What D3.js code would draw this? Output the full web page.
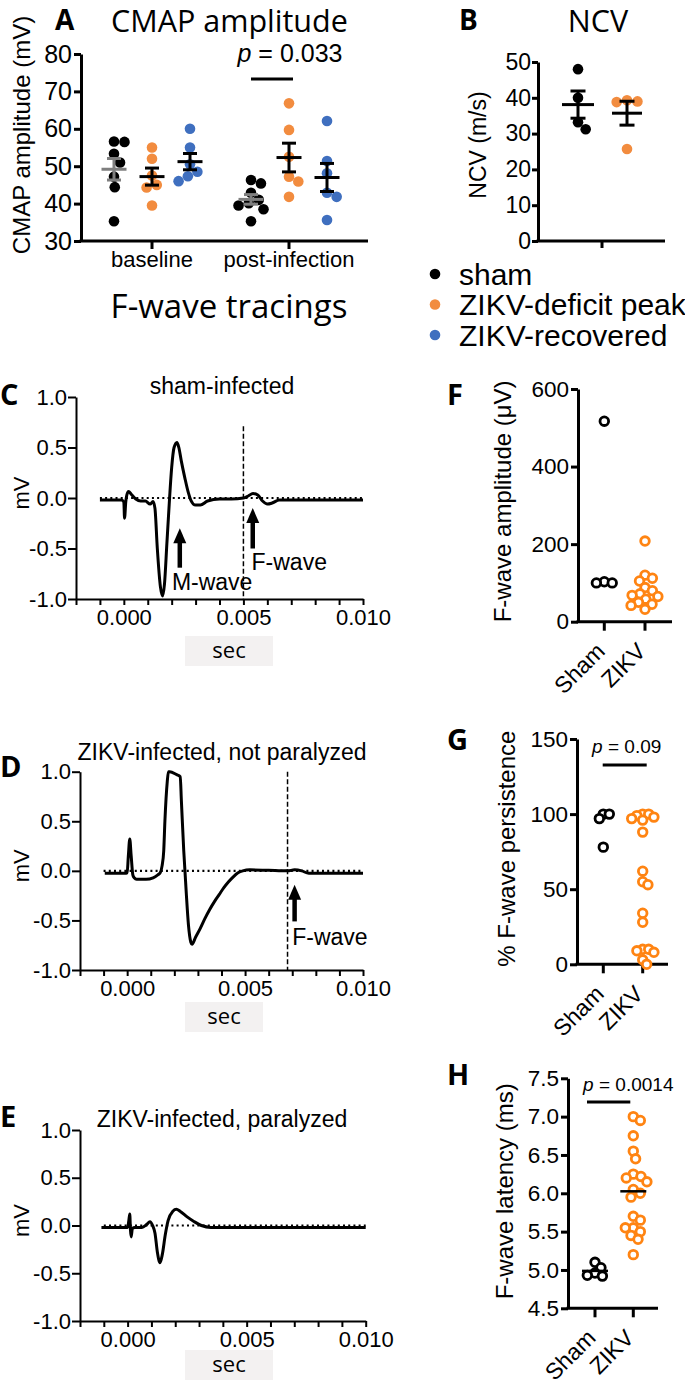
<!DOCTYPE html>
<html><head><meta charset="utf-8">
<script src="https://cdn.jsdelivr.net/npm/d3@7"></script>
<style>body{margin:0;background:#fff} svg{display:block}</style>
</head><body>
<svg id="fig" width="685" height="1386"></svg>
<script>
// ---------------- DATA ----------------
const groupsA = ["baseline", "post-infection"];
const seriesA = ["sham", "ZIKV-deficit peak", "ZIKV-recovered"];
const colorsA = ["#000000", "#F28C3F", "#3F6FBF"];
const cmapBaselineSham = [56.5, 56.6, 53.3, 51.0, 47.2, 44.4, 35.3];
const cmapBaselineDeficit = [55.0, 52.0, 47.5, 45.0, 44.3, 39.5];
const cmapBaselineRecovered = [60.0, 55.0, 50.5, 48.5, 47.3, 46.0];
const cmapPostSham = [46.3, 45.4, 42.9, 41.0, 40.1, 39.5, 38.5, 35.3];
const cmapPostDeficit = [66.8, 59.7, 52.5, 47.2, 45.9, 41.8];
const cmapPostRecovered = [62.1, 51.4, 48.1, 42.9, 41.8, 35.6];
const ticksA = [30, 40, 50, 60, 70, 80];
const pValueA = "0.033";

const ncvSham = [48.0, 40.0, 33.2, 31.2];
const ncvDeficit = [39.3, 39.0, 38.8, 25.7];
const ticksB = [0, 10, 20, 30, 40, 50];

const traceYTicks = [-1, -0.5, 0, 0.5, 1];
const traceXTicks = [-0.002, -0.001, 0, 0.001, 0.002, 0.003, 0.004, 0.005, 0.006, 0.007, 0.008, 0.009, 0.010];
const traceXLabels = [0, 0.005, 0.010];

const traceC = [[-0.0010,-0.02],[-0.0001,-0.02],[0.0,-0.04],[0.00003,-0.2],[0.00008,-0.04],[0.00015,0.05],[0.0002,0.065],[0.0003,0.04],[0.0005,-0.01],[0.0007,-0.03],[0.0009,-0.03],[0.0011,-0.06],[0.00122,-0.035],[0.0013,-0.1],[0.0014,-0.5],[0.00153,-0.88],[0.00162,-0.97],[0.0017,-0.85],[0.0018,-0.45],[0.0019,-0.05],[0.0020,0.3],[0.0021,0.5],[0.00222,0.55],[0.0023,0.5],[0.0024,0.37],[0.00255,0.2],[0.0027,0.05],[0.0028,-0.02],[0.0030,-0.07],[0.0032,-0.07],[0.0035,-0.03],[0.0040,-0.01],[0.0045,-0.01],[0.0050,0.0],[0.0052,0.02],[0.0054,0.045],[0.0056,0.03],[0.0058,-0.03],[0.0060,-0.06],[0.0062,-0.05],[0.0065,-0.02],[0.0070,-0.02],[0.0100,-0.02]];
const fLatencyC = 0.005;

const traceD = [[-0.00095,-0.025],[-0.0001,-0.025],[0.0,-0.02],[0.00005,0.15],[0.00011,0.32],[0.00017,0.15],[0.00024,-0.04],[0.0003,-0.07],[0.0004,-0.085],[0.0008,-0.085],[0.0011,-0.07],[0.0013,-0.04],[0.0014,-0.02],[0.00148,0.05],[0.00155,0.2],[0.0016,0.5],[0.0017,0.9],[0.00175,1.0],[0.0018,1.0],[0.0021,0.97],[0.00225,0.95],[0.0023,0.7],[0.0024,0.2],[0.0025,-0.2],[0.0026,-0.55],[0.0027,-0.72],[0.00275,-0.74],[0.0029,-0.67],[0.0031,-0.58],[0.0033,-0.48],[0.0035,-0.39],[0.0037,-0.31],[0.0039,-0.24],[0.0041,-0.17],[0.0043,-0.11],[0.0045,-0.06],[0.0047,-0.02],[0.0049,0.0],[0.0052,0.01],[0.0060,0.005],[0.0068,0.0],[0.0071,0.01],[0.0074,0.0],[0.0077,-0.025],[0.0080,-0.025],[0.0100,-0.025]];
const fLatencyD = 0.0068;

const traceE = [[-0.0011,-0.02],[0.0,-0.02],[0.00005,0.05],[0.00009,0.12],[0.00012,-0.05],[0.00015,-0.12],[0.0002,-0.03],[0.0003,-0.02],[0.0006,-0.02],[0.0008,0.01],[0.00094,0.04],[0.00105,0.0],[0.00115,-0.08],[0.00125,-0.28],[0.00136,-0.39],[0.00146,-0.3],[0.00158,-0.1],[0.0017,0.05],[0.0019,0.15],[0.00205,0.17],[0.0022,0.15],[0.0025,0.09],[0.0028,0.04],[0.0031,0.0],[0.0035,-0.02],[0.0100,-0.02]];

const groupsFH = ["Sham", "ZIKV"];
const colorsFH = ["#000000", "#FF8412"];
const fAmpSham = [517, 103, 100, 100];
const fAmpZikv = [208, 120, 112, 105, 88, 80, 72, 68, 65, 58, 50, 45, 42, 32];
const ticksF = [0, 200, 400, 600];
const persistSham = [100, 100, 97, 78];
const persistZikv = [100, 100, 99, 98, 97, 96, 88, 62, 55, 53, 34, 28, 10, 10, 9, 8, 3, 0];
const ticksG = [0, 50, 100, 150];
const pValueG = "0.09";
const latencySham = [5.1, 5.03, 4.96, 4.93, 4.92];
const latencyZikv = [7.0, 6.95, 6.75, 6.55, 6.45, 6.25, 6.22, 6.2, 6.15, 6.05, 6.0, 5.95, 5.7, 5.65, 5.55, 5.55, 5.5, 5.45, 5.4, 5.2];
const ticksH = [4.5, 5.0, 5.5, 6.0, 6.5, 7.0, 7.5];
const pValueH = "0.0014";

// ---------------- HELPERS ----------------
const ARIAL = "'Liberation Sans', Arial, sans-serif";
const HUM = "'Open Sans', sans-serif";
const svg = d3.select("#fig");
svg.append("rect").attr("width", 685).attr("height", 1386).attr("fill", "#fff");

function txt(g, x, y, s, fs, opts = {}) {
  return g.append("text").attr("x", x).attr("y", y).text(s)
    .attr("font-size", fs).attr("font-family", opts.font || ARIAL)
    .attr("font-weight", opts.weight || "normal")
    .attr("text-anchor", opts.anchor || "start").attr("fill", "#000");
}
function styleAxis(g, fs, sw) {
  g.attr("font-size", null).attr("font-family", null);
  g.select(".domain").attr("stroke-width", sw).attr("stroke", "#000");
  g.selectAll(".tick line").attr("stroke-width", sw).attr("stroke", "#000");
  g.selectAll(".tick text").attr("font-size", fs).attr("font-family", ARIAL).attr("fill", "#000");
}
function yLabel(x, y, s, fs) {
  svg.append("text").attr("transform", `translate(${x},${y}) rotate(-90)`)
    .attr("text-anchor", "middle").attr("dy", "0.35em")
    .attr("font-size", fs).attr("font-family", ARIAL).text(s);
}
function swarm(values, yScale, cx, d) {
  const pts = values.map(v => ({ v, y: yScale(v) })).sort((a, b) => a.y - b.y);
  const placed = [];
  for (const p of pts) {
    const cands = [0];
    for (const q of placed) {
      const dy = Math.abs(q.y - p.y);
      if (dy < d) { const dx = Math.sqrt(d * d - dy * dy); cands.push(q.dx + dx, q.dx - dx); }
    }
    cands.sort((a, b) => Math.abs(a) - Math.abs(b));
    p.dx = 0;
    for (const c of cands) {
      if (placed.every(q => (q.dx - c) ** 2 + (q.y - p.y) ** 2 >= d * d - 0.01)) { p.dx = c; break; }
    }
    placed.push(p);
  }
  return placed.map(p => ({ x: cx + p.dx, y: p.y, v: p.v }));
}
function meanSem(g, vals, x, yScale, half, cap, color, sw, showErr = true) {
  const m = d3.mean(vals), se = d3.deviation(vals) / Math.sqrt(vals.length);
  g.append("line").attr("x1", x - half).attr("x2", x + half).attr("y1", yScale(m)).attr("y2", yScale(m))
    .attr("stroke", color).attr("stroke-width", sw);
  if (!showErr) return;
  g.append("line").attr("x1", x).attr("x2", x).attr("y1", yScale(m - se)).attr("y2", yScale(m + se))
    .attr("stroke", color).attr("stroke-width", sw);
  [m - se, m + se].forEach(v => g.append("line").attr("x1", x - cap).attr("x2", x + cap)
    .attr("y1", yScale(v)).attr("y2", yScale(v)).attr("stroke", color).attr("stroke-width", sw));
}

// ---------------- PANEL A ----------------
{
  const g = svg.append("g");
  const y = d3.scaleLinear().domain([30, 80]).range([241, 54]);
  const xg = d3.scalePoint().domain(groupsA).range([152, 289]);
  const xs = d3.scalePoint().domain(seriesA).range([-38, 38]);
  const dataA = {
    "baseline": [cmapBaselineSham, cmapBaselineDeficit, cmapBaselineRecovered],
    "post-infection": [cmapPostSham, cmapPostDeficit, cmapPostRecovered]
  };
  const ax = g.append("g").attr("transform", "translate(81,0)")
    .call(d3.axisLeft(y).tickValues(ticksA).tickSize(7).tickSizeOuter(0).tickPadding(2).tickFormat(d3.format("d")));
  styleAxis(ax, 25, 3);
  g.append("line").attr("x1", 79.5).attr("x2", 368).attr("y1", 241).attr("y2", 241).attr("stroke", "#000").attr("stroke-width", 3);
  groupsA.forEach(gr => {
    g.append("line").attr("x1", xg(gr)).attr("x2", xg(gr)).attr("y1", 241).attr("y2", 249).attr("stroke", "#000").attr("stroke-width", 3);
    txt(g, xg(gr), 267, gr, 22, { anchor: "middle" });
  });
  groupsA.forEach(gr => {
    seriesA.forEach((s, i) => {
      const cx = xg(gr) + xs(s);
      const pts = swarm(dataA[gr][i], y, cx, 10.5);
      g.selectAll(null).data(pts).enter().append("circle")
        .attr("cx", d => d.x).attr("cy", d => d.y).attr("r", 5.3).attr("fill", colorsA[i]);
    });
    seriesA.forEach((s, i) => {
      meanSem(g, dataA[gr][i], xg(gr) + xs(s), y, 12.5, 7, i === 0 ? "#7f7f7f" : "#000", 3);
    });
  });
  const px1 = xg("post-infection") + xs("sham"), px2 = xg("post-infection") + xs("ZIKV-deficit peak") + 4;
  g.append("line").attr("x1", px1).attr("x2", px2).attr("y1", y(73.3)).attr("y2", y(73.3)).attr("stroke", "#000").attr("stroke-width", 3);
  const pt = txt(g, 290, 62, "", 25, { anchor: "middle" });
  pt.append("tspan").attr("font-style", "italic").text("p");
  pt.append("tspan").text(" = " + pValueA);
  yLabel(22, 135, "CMAP amplitude (mV)", 24);
  txt(svg, 55, 30, "A", 28, { weight: "bold", font: HUM });
  txt(svg, 111, 32, "CMAP amplitude", 30.5, { font: HUM });
}

// ---------------- PANEL B ----------------
{
  const g = svg.append("g");
  const y = d3.scaleLinear().domain([0, 50]).range([241, 62]);
  const x = d3.scalePoint().domain(["sham", "deficit"]).range([578, 627]);
  const ax = g.append("g").attr("transform", "translate(538,0)")
    .call(d3.axisLeft(y).tickValues(ticksB).tickSize(6).tickSizeOuter(0).tickPadding(1).tickFormat(d3.format("d")));
  styleAxis(ax, 23, 3);
  g.append("line").attr("x1", 536.5).attr("x2", 665).attr("y1", 241).attr("y2", 241).attr("stroke", "#000").attr("stroke-width", 3);
  g.append("line").attr("x1", 602).attr("x2", 602).attr("y1", 241).attr("y2", 248).attr("stroke", "#000").attr("stroke-width", 3);
  [[ncvSham, "sham", colorsA[0]], [ncvDeficit, "deficit", colorsA[1]]].forEach(([vals, k, c]) => {
    const pts = swarm(vals, y, x(k), 10.5);
    g.selectAll(null).data(pts).enter().append("circle")
      .attr("cx", d => d.x).attr("cy", d => d.y).attr("r", 5.3).attr("fill", c);
  });
  meanSem(g, ncvSham, x("sham"), y, 16, 7.5, "#000", 3);
  meanSem(g, ncvDeficit, x("deficit"), y, 15, 7.5, "#000", 3);
  yLabel(478, 145, "NCV (m/s)", 23);
  txt(svg, 459, 30, "B", 28, { weight: "bold", font: HUM });
  txt(svg, 598, 32, "NCV", 30.5, { font: HUM, anchor: "middle" });
}

// ---------------- LEGEND ----------------
{
  const g = svg.append("g");
  const ly = d3.scalePoint().domain(seriesA).range([274, 335]);
  seriesA.forEach((s, i) => {
    g.append("circle").attr("cx", 435).attr("cy", ly(s)).attr("r", 5.3).attr("fill", colorsA[i]);
    txt(g, 459, ly(s), s, 30).attr("dy", "0.35em");
  });
}

txt(svg, 229, 318, "F-wave tracings", 33, { font: HUM, anchor: "middle" });

// ---------------- TRACES ----------------
function tracePanel(o) {
  const g = svg.append("g");
  const x = d3.scaleLinear().domain([-0.002, 0.010]).range([o.x0, o.x1]);
  const y = d3.scaleLinear().domain([-1, 1]).range([o.y0, o.y1]);
  const ay = g.append("g").attr("transform", `translate(${o.x0},0)`)
    .call(d3.axisLeft(y).tickValues(traceYTicks).tickSize(8).tickSizeOuter(0).tickPadding(1).tickFormat(d => d.toFixed(1)));
  styleAxis(ay, 22, 2);
  const axx = g.append("g").attr("transform", `translate(0,${o.y0})`)
    .call(d3.axisBottom(x).tickValues(traceXTicks).tickSize(6).tickSizeOuter(0).tickPadding(4)
      .tickFormat(d => traceXLabels.some(l => Math.abs(l - d) < 1e-9) ? d.toFixed(3) : ""));
  styleAxis(axx, 22, 2);
  g.append("line").attr("x1", x(-0.001)).attr("x2", x(0.010)).attr("y1", y(0)).attr("y2", y(0))
    .attr("stroke", "#000").attr("stroke-width", 2.2).attr("stroke-dasharray", "2,3.2");
  if (o.fLat !== undefined) {
    g.append("line").attr("x1", x(o.fLat)).attr("x2", x(o.fLat)).attr("y1", y(o.fTop)).attr("y2", y(-1))
      .attr("stroke", "#000").attr("stroke-width", 1.5).attr("stroke-dasharray", "5,2.5");
  }
  const line = d3.line().x(d => x(d[0])).y(d => y(d[1])).curve(d3.curveMonotoneX);
  g.append("path").datum(o.data).attr("d", line).attr("fill", "none").attr("stroke", "#000")
    .attr("stroke-width", 3).attr("stroke-linejoin", "round");
  (o.arrows || []).forEach(a => {
    const ax_ = x(a.t), yb = y(a.v0), yt = y(a.v1);
    g.append("line").attr("x1", ax_).attr("x2", ax_).attr("y1", yb).attr("y2", yt + 12)
      .attr("stroke", "#000").attr("stroke-width", 4.5);
    g.append("path").attr("d", `M${ax_},${yt} L${ax_ - 6.5},${yt + 15} L${ax_ + 6.5},${yt + 15} Z`).attr("fill", "#000");
  });
  (o.labels || []).forEach(l => txt(g, x(l.t), y(l.v), l.s, 23));
  txt(g, 222, o.titleY, o.title, 23, { anchor: "middle" });
  yLabel(21, y(0) - 5, "mV", 22);
  g.append("rect").attr("x", 185).attr("y", o.secY - 22).attr("width", o.secW).attr("height", 30).attr("fill", "#f3f1f1");
  txt(g, 185 + o.secW / 2, o.secY, "sec", 22, { font: HUM, anchor: "middle" });
  txt(svg, 0, o.letterY, o.letter, 29, { weight: "bold", font: HUM });
}

tracePanel({ x0: 76, x1: 363, y0: 599, y1: 397, data: traceC, fLat: fLatencyC, fTop: 0.71,
  arrows: [{ t: 0.00234, v0: -0.69, v1: -0.30 }, { t: 0.00539, v0: -0.5, v1: -0.1 }],
  labels: [{ t: 0.00201, v: -0.91, s: "M-wave" }, { t: 0.00534, v: -0.71, s: "F-wave" }],
  title: "sham-infected", titleY: 394, secY: 658, secW: 88, letter: "C", letterY: 405 });
tracePanel({ x0: 80, x1: 363, y0: 970, y1: 771.7, data: traceD, fLat: fLatencyD, fTop: 1.0,
  arrows: [{ t: 0.0071, v0: -0.51, v1: -0.14 }],
  labels: [{ t: 0.00700, v: -0.75, s: "F-wave" }],
  title: "ZIKV-infected, not paralyzed", titleY: 760, secY: 1024, secW: 78, letter: "D", letterY: 777 });
tracePanel({ x0: 80, x1: 365.7, y0: 1321, y1: 1130, data: traceE,
  title: "ZIKV-infected, paralyzed", titleY: 1127, secY: 1372, secW: 88, letter: "E", letterY: 1127 });

// ---------------- F, G, H ----------------
function scatterPanel(o) {
  const g = svg.append("g");
  const y = d3.scaleLinear().domain(o.domain).range([o.yb, o.yt]);
  const x = d3.scalePoint().domain(groupsFH).range([o.xs, o.xz]);
  const ax = g.append("g").attr("transform", `translate(${o.x0},0)`)
    .call(d3.axisLeft(y).tickValues(o.ticks).tickSize(7).tickSizeOuter(0).tickPadding(2).tickFormat(o.fmt));
  styleAxis(ax, 22.5, 3);
  g.append("line").attr("x1", o.x0 - 1.5).attr("x2", o.x1).attr("y1", o.yb).attr("y2", o.yb).attr("stroke", "#000").attr("stroke-width", 3);
  groupsFH.forEach((k, i) => {
    g.append("line").attr("x1", x(k)).attr("x2", x(k)).attr("y1", o.yb).attr("y2", o.yb + 9).attr("stroke", "#000").attr("stroke-width", 3);
    g.append("text").attr("transform", `translate(${x(k) + 2},${o.yb + 31}) rotate(-45)`)
      .attr("text-anchor", "end").attr("font-size", 23).attr("font-family", ARIAL).text(k);
    const pts = swarm(o.vals[i], y, x(k), o.sw || 8);
    g.selectAll(null).data(pts).enter().append("circle")
      .attr("cx", d => d.x).attr("cy", d => d.y).attr("r", 4.3)
      .attr("fill", "#fff").attr("stroke", colorsFH[i]).attr("stroke-width", 2.8);
  });
  if (o.means) groupsFH.forEach((k, i) => meanSem(g, o.vals[i], x(k), y, 13, 0, "#000", 2.5, false));
  if (o.p) {
    g.append("line").attr("x1", x("Sham") + o.p.dx1).attr("x2", x("ZIKV") + o.p.dx2)
      .attr("y1", y(o.p.lineV)).attr("y2", y(o.p.lineV)).attr("stroke", "#000").attr("stroke-width", 3);
    const t = txt(g, o.p.cx, y(o.p.textV), "", 19, { anchor: "middle" });
    t.append("tspan").attr("font-style", "italic").text("p");
    t.append("tspan").text(" = " + o.p.s);
  }
  yLabel(o.labX, (o.yb + o.yt) / 2 + o.labDy, o.label, 24);
  txt(svg, 447, o.letterY, o.letter, 29, { weight: "bold", font: HUM });
}

scatterPanel({ domain: [0, 600], yb: 621.7, yt: 389, xs: 604.3, xz: 645, x0: 578, x1: 672,
  ticks: ticksF, fmt: d3.format("d"), vals: [fAmpSham, fAmpZikv], sw: 8,
  label: "F-wave amplitude (μV)", labX: 503, labDy: -4, letter: "F", letterY: 405 });
scatterPanel({ domain: [0, 150], yb: 964.3, yt: 739, xs: 603.3, xz: 642.7, x0: 577, x1: 668,
  ticks: ticksG, fmt: d3.format("d"), vals: [persistSham, persistZikv], sw: 6,
  p: { s: pValueG, lineV: 132.7, textV: 140.6, cx: 626.7, dx1: -0.6, dx2: 4 },
  label: "% F-wave persistence", labX: 507, labDy: -3, letter: "G", letterY: 750 });
scatterPanel({ domain: [4.5, 7.5], yb: 1308.3, yt: 1078.3, xs: 595, xz: 633.3, x0: 568, x1: 658,
  ticks: ticksH, fmt: d => d.toFixed(1), vals: [latencySham, latencyZikv], means: true, sw: 8,
  p: { s: pValueH, lineV: 7.19, textV: 7.33, cx: 628.3, dx1: -8, dx2: -3 },
  label: "F-wave latency (ms)", labX: 505, labDy: -2, letter: "H", letterY: 1085 });
</script>
</body></html>
